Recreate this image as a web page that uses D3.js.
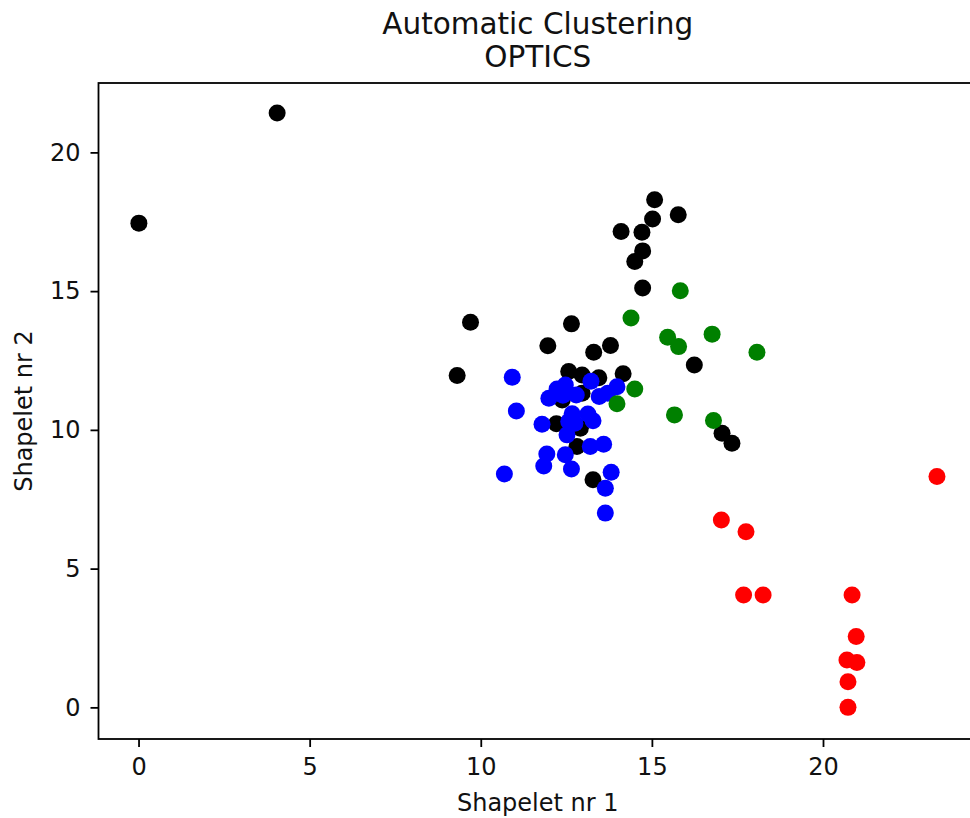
<!DOCTYPE html>
<html>
<head>
<meta charset="utf-8">
<script src="https://cdn.jsdelivr.net/npm/d3@7"></script>
<style>
  html, body { margin: 0; padding: 0; background: #fff; }
  svg { display: block; }
  text { font-family: "DejaVu Sans", sans-serif; fill: #111; }
</style>
</head>
<body>
<svg id="chart" width="970" height="818"></svg>
<script>
// OPTICS cluster assignments in the two-shapelet feature space: [shapelet 1, shapelet 2]
const noisePoints = [
  [0.01, 17.45], [4.05, 21.42], [9.70, 13.88], [9.31, 11.96], [12.65, 13.82],
  [11.96, 13.03], [13.79, 13.04], [13.30, 12.80], [12.57, 12.10], [12.96, 11.98],
  [13.45, 11.88], [14.16, 12.02], [12.38, 11.08], [12.96, 11.32], [12.21, 10.22],
  [12.91, 10.06], [12.81, 9.40], [13.28, 8.20], [15.08, 18.29], [15.77, 17.75],
  [15.02, 17.60], [14.10, 17.15], [14.71, 17.12], [14.73, 16.45], [14.50, 16.07],
  [14.73, 15.11], [16.24, 12.34], [17.05, 9.88], [17.34, 9.52]
];
const blueCluster = [
  [10.92, 11.90], [11.04, 10.68], [10.69, 8.41], [11.79, 10.20], [11.93, 9.13],
  [11.84, 8.70], [12.47, 9.10], [12.65, 8.59], [13.20, 9.40], [13.59, 9.48],
  [13.81, 8.47], [13.64, 7.90], [13.64, 7.00], [12.52, 9.82], [12.67, 10.58],
  [13.13, 10.57], [13.28, 10.33], [12.57, 10.30], [11.99, 11.14], [12.23, 11.47],
  [12.47, 11.62], [12.79, 11.26], [13.22, 11.75], [13.46, 11.20], [13.71, 11.32],
  [13.98, 11.55], [12.75, 10.24], [12.40, 11.25]
];
const greenCluster = [
  [15.83, 15.01], [14.39, 14.03], [15.46, 13.34], [15.78, 13.00], [16.76, 13.45],
  [18.07, 12.80], [14.50, 11.47], [13.98, 10.94], [15.66, 10.54], [16.80, 10.34]
];
const redCluster = [
  [23.33, 8.32], [17.03, 6.75], [17.75, 6.33], [17.68, 4.05], [18.25, 4.05],
  [20.85, 4.05], [20.97, 2.55], [20.70, 1.71], [20.99, 1.62], [20.73, 0.92],
  [20.73, 0.00]
];

const xTicks = [0, 5, 10, 15, 20];
const yTicks = [0, 5, 10, 15, 20];
const titleLines = ["Automatic Clustering", "OPTICS"];
const xLabel = "Shapelet nr 1";
const yLabel = "Shapelet nr 2";

const groups = [
  { pts: noisePoints, color: "black" },
  { pts: blueCluster, color: "blue" },
  { pts: greenCluster, color: "green" },
  { pts: redCluster, color: "red" }
];

const plot = { left: 98.5, right: 977, top: 83, bottom: 739 };
const svg = d3.select("#chart");

const x = d3.scaleLinear().domain([-1.17, 24.5]).range([plot.left, plot.right]);
const y = d3.scaleLinear().domain([-1.14, 22.5]).range([plot.bottom, plot.top]);

const tickFont = 24;

// markers
groups.forEach(g => {
  svg.append("g")
    .selectAll("circle")
    .data(g.pts)
    .join("circle")
    .attr("cx", d => x(d[0]))
    .attr("cy", d => y(d[1]))
    .attr("r", 8.5)
    .attr("fill", g.color);
});

// frame
svg.append("rect")
  .attr("x", plot.left).attr("y", plot.top)
  .attr("width", plot.right - plot.left).attr("height", plot.bottom - plot.top)
  .attr("fill", "none").attr("stroke", "#000").attr("stroke-width", 1.8);

// axes
const xAxis = svg.append("g")
  .attr("transform", `translate(0,${plot.bottom})`)
  .call(d3.axisBottom(x).tickValues(xTicks).tickFormat(d3.format("d")).tickSize(8).tickPadding(11));
const yAxis = svg.append("g")
  .attr("transform", `translate(${plot.left},0)`)
  .call(d3.axisLeft(y).tickValues(yTicks).tickFormat(d3.format("d")).tickSize(8).tickPadding(10));

[xAxis, yAxis].forEach(a => {
  a.select(".domain").remove();
  a.selectAll(".tick line").attr("stroke", "#000").attr("stroke-width", 1.8);
  a.selectAll(".tick text")
    .attr("fill", "#111")
    .style("font-family", '"DejaVu Sans", sans-serif')
    .style("font-size", tickFont + "px");
});

// title
const cx = (plot.left + plot.right) / 2;
svg.append("text")
  .attr("x", cx).attr("y", 34)
  .attr("text-anchor", "middle")
  .style("font-size", "29.5px")
  .text(titleLines[0]);
svg.append("text")
  .attr("x", cx).attr("y", 67)
  .attr("text-anchor", "middle")
  .style("font-size", "29.5px")
  .text(titleLines[1]);

// axis labels
svg.append("text")
  .attr("x", cx).attr("y", 811)
  .attr("text-anchor", "middle")
  .style("font-size", tickFont + "px")
  .text(xLabel);
svg.append("text")
  .attr("transform", `translate(32,${(plot.top + plot.bottom) / 2}) rotate(-90)`)
  .attr("text-anchor", "middle")
  .style("font-size", tickFont + "px")
  .text(yLabel);
</script>
</body>
</html>
